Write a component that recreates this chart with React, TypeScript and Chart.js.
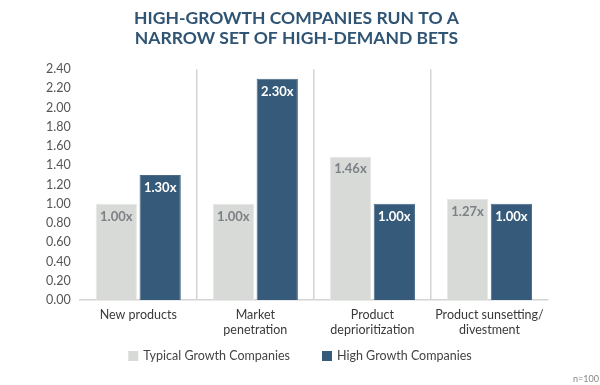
import React, { useEffect, useRef } from "react";
import { Chart, registerables } from "chart.js";

Chart.register(...registerables);

const categories: string[][] = [
  ["New products"],
  ["Market", "penetration"],
  ["Product", "deprioritization"],
  ["Product sunsetting/", "divestment"],
];
const typicalValues = [1.0, 1.0, 1.49, 1.05];
const highValues = [1.3, 2.3, 1.0, 1.0];
const typicalLabels = ["1.00x", "1.00x", "1.46x", "1.27x"];
const highLabels = ["1.30x", "2.30x", "1.00x", "1.00x"];
const seriesNames = ["Typical Growth Companies", "High Growth Companies"];
const titleLines = ["HIGH-GROWTH COMPANIES RUN TO A", "NARROW SET OF HIGH-DEMAND BETS"];
const footnote = "n=100";

const GRAY = "#d8dad7";
const BLUE = "#365a79";
const FONT = "Lato, 'Open Sans', sans-serif";

const labelPlugin = {
  id: "barLabels",
  afterDatasetsDraw(chart: any) {
    const ctx = chart.ctx;
    const labelSets = [typicalLabels, highLabels];
    const colors = ["#7c8185", "#ffffff"];
    chart.data.datasets.forEach((_: any, di: number) => {
      const meta = chart.getDatasetMeta(di);
      meta.data.forEach((bar: any, i: number) => {
        ctx.save();
        ctx.font = `bold 13px ${FONT}`;
        ctx.fillStyle = colors[di];
        ctx.textAlign = "center";
        ctx.textBaseline = "middle";
        ctx.fillText(labelSets[di][i], bar.x, bar.y + 12.5);
        ctx.restore();
      });
    });
  },
  afterDraw(chart: any) {
    const ctx = chart.ctx;
    ctx.save();
    // legend
    const colors = [GRAY, BLUE];
    ctx.font = `12.5px ${FONT}`;
    const box = 10;
    const gapBoxText = 5;
    const gapItems = 32;
    const widths = seriesNames.map((s) => ctx.measureText(s).width);
    const total = widths.reduce((a, w) => a + box + gapBoxText + w, 0) + gapItems * (seriesNames.length - 1);
    let x = chart.width / 2 - total / 2;
    const y = 356;
    ctx.textBaseline = "middle";
    ctx.textAlign = "left";
    seriesNames.forEach((s, i) => {
      ctx.fillStyle = colors[i];
      ctx.fillRect(x, y - box / 2, box, box);
      x += box + gapBoxText;
      ctx.fillStyle = "#444";
      ctx.fillText(s, x, y);
      x += widths[i] + gapItems;
    });
    // footnote
    ctx.font = `9px ${FONT}`;
    ctx.fillStyle = "#888";
    ctx.textAlign = "right";
    ctx.fillText(footnote, chart.width - 1, 379);
    ctx.restore();
  },
};

export default function App() {
  const ref = useRef<HTMLCanvasElement>(null);
  useEffect(() => {
    if (!ref.current) return;
    const chart = new Chart(ref.current, {
      type: "bar",
      data: {
        labels: categories,
        datasets: [
          {
            label: seriesNames[0],
            data: typicalValues,
            backgroundColor: GRAY,
            borderColor: "#e6e8e5",
            borderWidth: 1,
            categoryPercentage: 0.75,
            barPercentage: 0.94,
          },
          {
            label: seriesNames[1],
            data: highValues,
            backgroundColor: BLUE,
            borderColor: "#4a6a88",
            borderWidth: 1,
            categoryPercentage: 0.75,
            barPercentage: 0.94,
          },
        ],
      },
      options: {
        animation: false,
        responsive: true,
        maintainAspectRatio: false,
        layout: { padding: { left: 45, right: 52, top: 0, bottom: 41 } },
        scales: {
          x: {
            grid: {
              offset: true,
              drawTicks: false,
              color: (c: any) => (c.index > 0 ? "#d4d4d4" : "rgba(0,0,0,0)"),
              lineWidth: 1.5,
            },
            border: { display: true, color: "#d4d4d4", width: 1.5 },
            ticks: {
              color: "#3a3a3a",
              font: { family: FONT, size: 12.5, lineHeight: 1.2 },
              padding: 7,
              maxRotation: 0,
            },
          },
          y: {
            min: 0,
            max: 2.4,
            grid: { display: false },
            border: { display: false },
            ticks: {
              stepSize: 0.2,
              color: "#555",
              font: { family: FONT, size: 12.5 },
              padding: 1,
              callback: (v: any) => Number(v).toFixed(2),
            },
          },
        },
        plugins: {
          title: {
            display: true,
            text: titleLines,
            color: "#2f5474",
            font: { family: FONT, size: 17.5, weight: "bold", lineHeight: 1.12 },
            padding: { top: 9, bottom: 21 },
          },
          legend: { display: false },
          tooltip: { enabled: false },
        },
      },
      plugins: [labelPlugin],
    } as any);
    return () => chart.destroy();
  }, []);
  return (
    <div style={{ position: "fixed", left: 0, top: 0, width: 600, height: 385, background: "#fff" }}>
      <canvas ref={ref} />
    </div>
  );
}
